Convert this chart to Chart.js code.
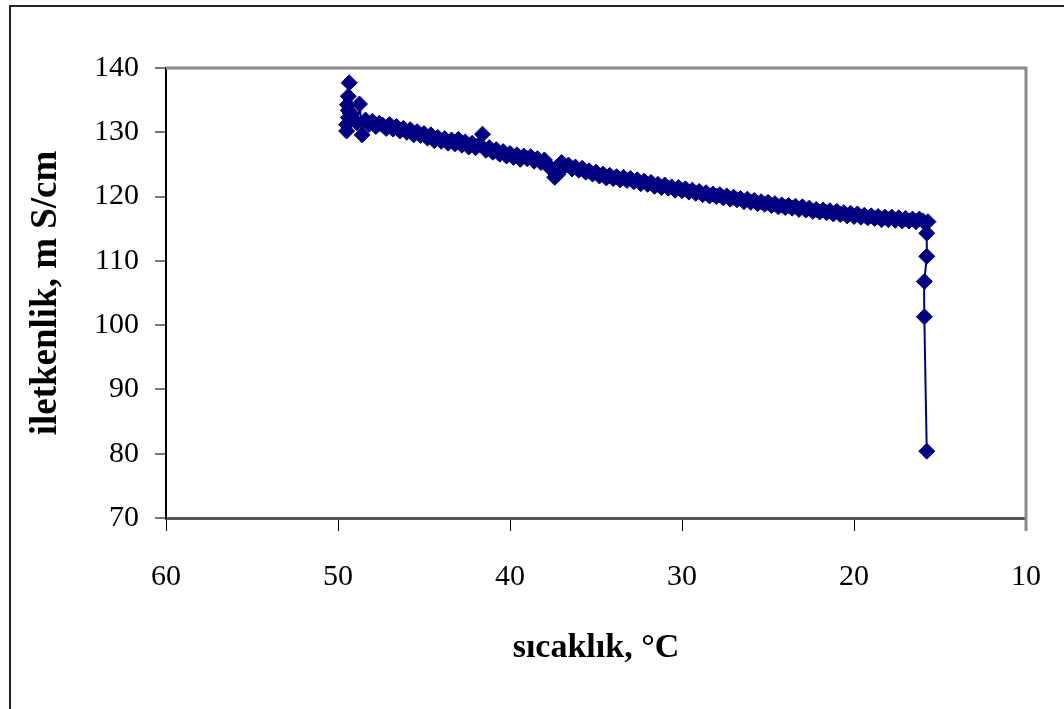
<!DOCTYPE html>
<html>
<head>
<meta charset="utf-8">
<script src="https://cdn.jsdelivr.net/npm/chart.js@4/dist/chart.umd.min.js"></script>
<style>
  html, body { margin: 0; padding: 0; background: #fff; overflow: hidden; }
  #wrap { position: relative; width: 1064px; height: 709px; }
  #frame { position: absolute; left: 9px; top: 5px; width: 1200px; height: 800px; border: 2px solid #222; box-sizing: border-box; pointer-events: none; }
  canvas { position: absolute; left: 0; top: 0; }
</style>
</head>
<body>
<div id="wrap">
  <canvas id="chart" width="1064" height="709"></canvas>
  <div id="frame"></div>
</div>
<script>
// sıcaklık (°C) ve iletkenlik (mS/cm) ölçümleri, ölçüm sırasıyla
const sicaklik = [
  49.5, 49.5, 49.4, 49.4, 49.45, 49.4, 49.35, 49.3, 49.1, 48.9, 48.75, 48.6,
  48.4, 48.2, 48.0, 47.8, 47.6, 47.4, 47.2,
  47.0, 46.8, 46.6, 46.4, 46.2,
  46.0, 45.8, 45.6, 45.4, 45.2,
  45.0, 44.8, 44.6, 44.4, 44.2,
  44.0, 43.8, 43.6, 43.4, 43.2,
  43.0, 42.8, 42.6, 42.4, 42.2,
  42.0, 41.8, 41.6, 41.4, 41.2,
  41.0, 40.8, 40.6, 40.4, 40.2,
  40.0, 39.8, 39.6, 39.4, 39.2,
  39.0, 38.8, 38.6, 38.4, 38.2,
  38.0, 37.8, 37.6, 37.4, 37.2,
  37.0, 36.8, 36.6, 36.4, 36.2,
  36.0, 35.8, 35.6, 35.4, 35.2,
  35.0, 34.8, 34.6, 34.4, 34.2,
  34.0, 33.8, 33.6, 33.4, 33.2,
  33.0, 32.8, 32.6, 32.4, 32.2,
  32.0, 31.8, 31.6, 31.4, 31.2,
  31.0, 30.8, 30.6, 30.4, 30.2,
  30.0, 29.8, 29.6, 29.4, 29.2,
  29.0, 28.8, 28.6, 28.4, 28.2,
  28.0, 27.8, 27.6, 27.4, 27.2,
  27.0, 26.8, 26.6, 26.4, 26.2,
  26.0, 25.8, 25.6, 25.4, 25.2,
  25.0, 24.8, 24.6, 24.4, 24.2,
  24.0, 23.8, 23.6, 23.4, 23.2,
  23.0, 22.8, 22.6, 22.4, 22.2,
  22.0, 21.8, 21.6, 21.4, 21.2,
  21.0, 20.8, 20.6, 20.4, 20.2,
  20.0, 19.8, 19.6, 19.4, 19.2,
  19.0, 18.8, 18.6, 18.4, 18.2,
  18.0, 17.8, 17.6, 17.4, 17.2,
  17.0, 16.8, 16.6, 16.4, 16.2,
  16.0, 15.7, 15.77, 15.77, 15.91, 15.91, 15.77
];
const iletkenlik = [
  130.2, 131.2, 132.3, 133.4, 134.3, 135.6, 137.7, 133.0, 132.0, 131.5, 134.4, 129.6,
  131.9, 131.2, 131.7, 130.9, 131.4, 131.1, 130.6,
  131.2, 130.5, 130.9, 130.2, 130.6,
  130.0, 130.4, 129.6, 130.1, 129.5,
  129.8, 129.1, 129.6, 128.7, 129.2,
  128.6, 129.0, 128.3, 128.8, 128.2,
  128.9, 128.0, 128.5, 127.7, 128.3,
  127.6, 128.1, 129.7, 127.2, 127.6,
  126.9, 127.3, 126.6, 127.0, 126.3,
  126.7, 126.1, 126.5, 125.8, 126.3,
  125.9, 126.2, 125.5, 125.9, 125.3,
  125.7, 124.9, 124.2, 123.0, 123.5,
  125.3, 124.8, 124.9, 124.3, 124.6,
  124.1, 124.4, 123.8, 124.0, 123.5,
  123.8, 123.2, 123.5, 122.9, 123.3,
  122.8, 123.1, 122.6, 123.0, 122.5,
  122.8, 122.3, 122.6, 122.0, 122.4,
  121.9, 122.2, 121.6, 121.9, 121.4,
  121.8, 121.3, 121.5, 121.0, 121.4,
  120.9, 121.2, 120.7, 121.0, 120.5,
  120.8, 120.3, 120.6, 120.1, 120.4,
  120.0, 120.3, 119.8, 120.1, 119.6,
  119.9, 119.5, 119.7, 119.2, 119.6,
  119.1, 119.4, 118.9, 119.2, 118.8,
  119.1, 118.6, 118.9, 118.4, 118.7,
  118.3, 118.6, 118.2, 118.5, 118.0,
  118.4, 117.9, 118.2, 117.7, 118.0,
  117.6, 117.9, 117.5, 117.8, 117.3,
  117.7, 117.2, 117.5, 117.0, 117.4,
  116.9, 117.3, 116.8, 117.1, 116.7,
  117.0, 116.6, 116.9, 116.4, 116.8,
  116.4, 116.8, 116.3, 116.7, 116.2,
  116.6, 116.2, 116.5, 116.1, 116.5,
  116.2, 116.1, 114.3, 110.7, 106.8, 101.3, 80.4
];

// eksen sınırları
const xMin = 10, xMax = 60, xStep = 10;
const yMin = 70, yMax = 140, yStep = 10;

const noktalar = sicaklik.map((t, i) => ({ x: t, y: iletkenlik[i] }));

// çizim alanının üst ve sağ kenarı (gri çerçeve)
const cerceve = {
    id: 'cerceve',
    afterDraw(chart) {
        const { ctx, chartArea: a } = chart;
        ctx.save();
        ctx.strokeStyle = '#8a8a8a';
        ctx.lineWidth = 3;
        ctx.beginPath();
        ctx.moveTo(a.left, a.top);
        ctx.lineTo(a.right, a.top);
        ctx.lineTo(a.right, a.bottom + 13);
        ctx.stroke();
        ctx.restore();
    }
};

const ctx = document.getElementById('chart').getContext('2d');
new Chart(ctx, {
    type: 'scatter',
    data: {
        datasets: [{
            data: noktalar,
            showLine: true,
            borderColor: '#000080',
            borderWidth: 2,
            tension: 0.2,
            pointStyle: 'rectRot',
            pointRadius: 8,
            pointBackgroundColor: '#000080',
            pointBorderColor: '#000080',
            pointBorderWidth: 1
        }]
    },
    options: {
        responsive: false,
        animation: false,
        layout: { autoPadding: false, padding: { left: 0, top: 68, right: 38, bottom: 0 } },
        plugins: {
            legend: { display: false },
            tooltip: { enabled: false }
        },
        scales: {
            x: {
                type: 'linear',
                reverse: true,
                min: xMin,
                max: xMax,
                ticks: {
                    stepSize: xStep,
                    color: '#000',
                    padding: 28,
                    maxRotation: 0,
                    font: { family: '"Liberation Serif", "Times New Roman", serif', size: 30 }
                },
                grid: { drawOnChartArea: false, drawTicks: true, tickLength: 13, color: '#000', lineWidth: 1 },
                border: { display: true, color: '#555', width: 3 },
                title: {
                    display: true,
                    text: 'sıcaklık, °C',
                    color: '#000',
                    padding: { top: 0, bottom: 40 },
                    font: { family: '"Liberation Serif", "Times New Roman", serif', size: 34, weight: 'bold' }
                },
                afterFit(axis) {
                    axis.height = 191;
                    axis.paddingLeft = 0;
                    axis.paddingRight = 0;
                }
            },
            y: {
                type: 'linear',
                min: yMin,
                max: yMax,
                ticks: {
                    stepSize: yStep,
                    color: '#000',
                    padding: 16,
                    font: { family: '"Liberation Serif", "Times New Roman", serif', size: 30 }
                },
                grid: { drawOnChartArea: false, drawTicks: true, tickLength: 11, color: '#777', lineWidth: 2 },
                border: { display: true, color: '#000', width: 2 },
                title: {
                    display: true,
                    text: 'iletkenlik, m S/cm',
                    color: '#000',
                    padding: { top: 24, bottom: 0 },
                    font: { family: '"Liberation Serif", "Times New Roman", serif', size: 37, weight: 'bold' }
                },
                afterFit(axis) {
                    axis.width = 166;
                    axis.paddingTop = 0;
                    axis.paddingBottom = 0;
                }
            }
        }
    },
    plugins: [cerceve]
});
</script>
</body>
</html>
